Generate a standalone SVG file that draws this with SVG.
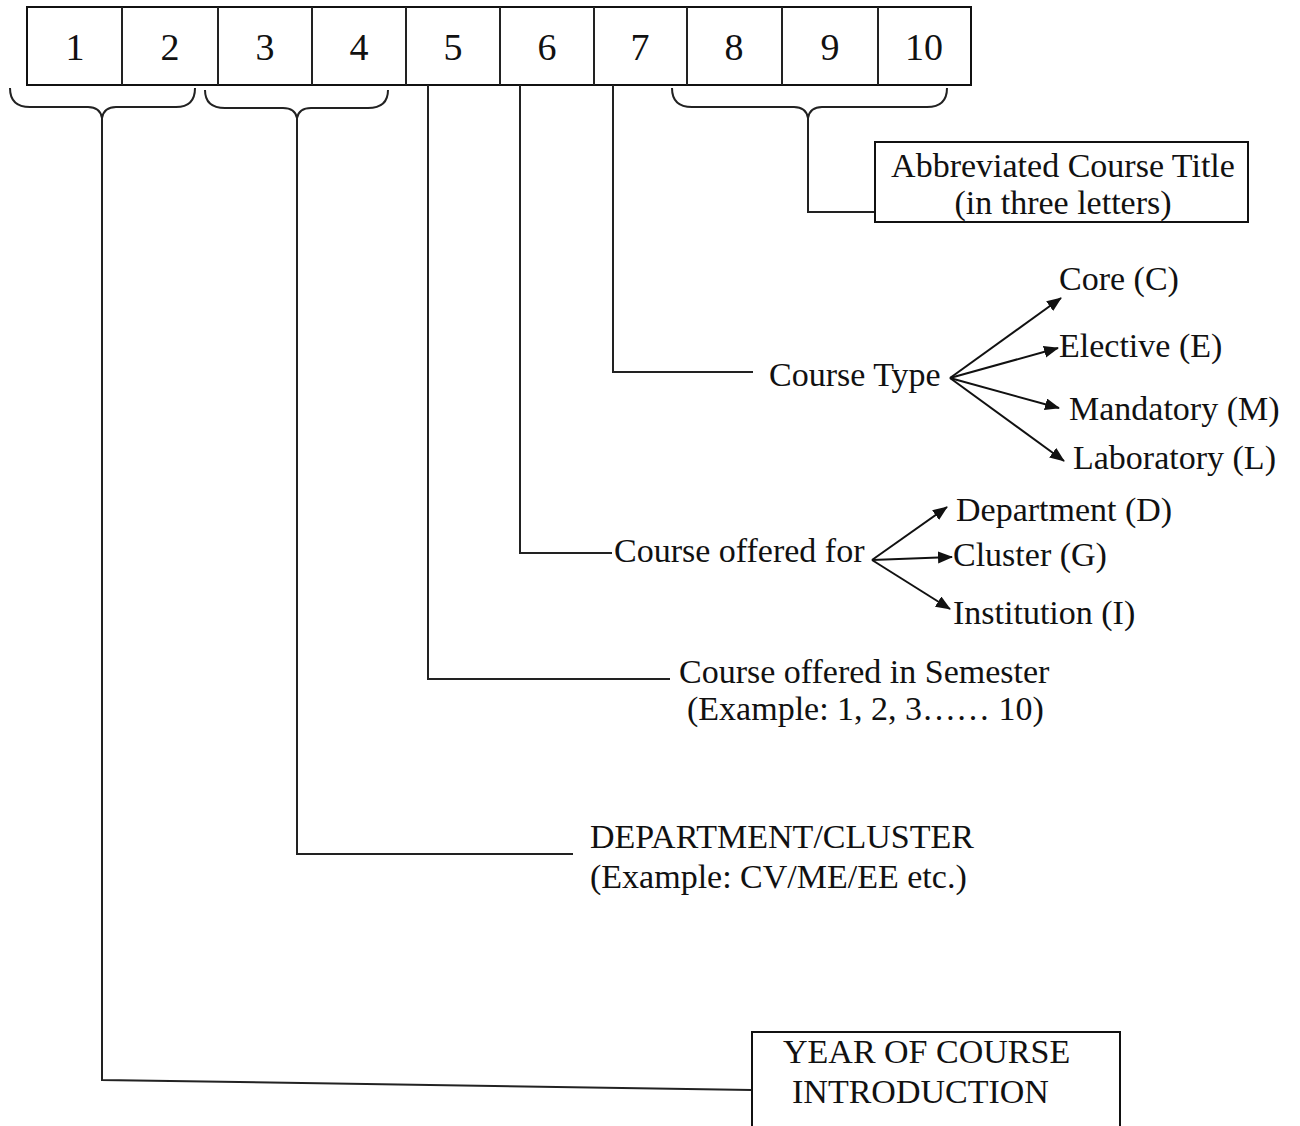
<svg xmlns="http://www.w3.org/2000/svg" width="1300" height="1126" viewBox="0 0 1300 1126">
<style>
text{font-family:"Liberation Serif","Times New Roman",serif;font-size:34px;fill:#111}
.d{font-size:38px;text-anchor:middle}
.m{text-anchor:middle}
.box{fill:#fff;stroke:#111;stroke-width:2}
.ln{fill:none;stroke:#222;stroke-width:2}
.ar{fill:none;stroke:#111;stroke-width:2;marker-end:url(#ah)}
</style>
<defs>
<marker id="ah" markerUnits="userSpaceOnUse" markerWidth="16" markerHeight="14" refX="14" refY="6" orient="auto">
<path d="M0,0 L15,6 L0,12 z" fill="#111"/>
</marker>
</defs>
<rect width="1300" height="1126" fill="#fff"/>
<g id="code-boxes">
<rect class="box" x="27" y="7" width="944" height="78"/>
<path class="ln" d="M122,7V85M218,7V85M312,7V85M406,7V85M500,7V85M594,7V85M687,7V85M782,7V85M878,7V85"/>
<text class="d" x="75" y="60">1</text>
<text class="d" x="170" y="60">2</text>
<text class="d" x="265" y="60">3</text>
<text class="d" x="359" y="60">4</text>
<text class="d" x="453" y="60">5</text>
<text class="d" x="547" y="60">6</text>
<text class="d" x="640" y="60">7</text>
<text class="d" x="734" y="60">8</text>
<text class="d" x="830" y="60">9</text>
<text class="d" x="924" y="60">10</text>
</g>
<g id="connectors">
<path class="ln" d="M10,88 Q10,107 30,107 L88,107 Q100,107 102,118 Q104,107 116,107 L176,107 Q195,107 195,88"/>
<path class="ln" d="M205,90 Q205,108 225,108 L283,108 Q295,108 297,118 Q299,108 311,108 L368,108 Q388,108 388,90"/>
<path class="ln" d="M672,88 Q672,107 692,107 L794,107 Q806,107 808,118 Q810,107 822,107 L927,107 Q947,107 947,88"/>
<path class="ln" d="M808,118 V212 H875"/>
<path class="ln" d="M613,85 V372 H753"/>
<path class="ln" d="M520,85 V553 H612"/>
<path class="ln" d="M428,85 V679 H670"/>
<path class="ln" d="M297,118 V854 H573"/>
<path class="ln" d="M102,118 V1080 L752,1090"/>
<path class="ar" d="M950,378 L1061,298"/>
<path class="ar" d="M950,378 L1058,348"/>
<path class="ar" d="M950,378 L1059,408"/>
<path class="ar" d="M950,378 L1064,461"/>
<path class="ar" d="M872,560 L947,507"/>
<path class="ar" d="M872,560 L952,557"/>
<path class="ar" d="M872,560 L950,609"/>
</g>
<g id="abbrev-title">
<rect class="box" x="875" y="142" width="373" height="80"/>
<text class="m" x="1063" y="177">Abbreviated Course Title</text>
<text class="m" x="1063" y="214">(in three letters)</text>
</g>
<g id="course-type">
<text x="769" y="386">Course Type</text>
</g>
<g id="core"><text x="1059" y="290">Core (C)</text></g>
<g id="elective"><text x="1059" y="357">Elective (E)</text></g>
<g id="mandatory"><text x="1069" y="420">Mandatory (M)</text></g>
<g id="laboratory"><text x="1073" y="469">Laboratory (L)</text></g>
<g id="offered-for"><text x="614" y="562">Course offered for</text></g>
<g id="department"><text x="956" y="521">Department (D)</text></g>
<g id="cluster"><text x="953" y="566">Cluster (G)</text></g>
<g id="institution"><text x="953" y="624">Institution (I)</text></g>
<g id="semester">
<text x="679" y="683">Course offered in Semester</text>
<text x="687" y="720">(Example: 1, 2, 3…… 10)</text>
</g>
<g id="dept-cluster">
<text x="590" y="848">DEPARTMENT/CLUSTER</text>
<text x="590" y="888">(Example: CV/ME/EE etc.)</text>
</g>
<g id="year">
<rect class="box" x="752" y="1032" width="368" height="110"/>
<text x="783" y="1063">YEAR OF COURSE</text>
<text x="792" y="1103">INTRODUCTION</text>
</g>
</svg>
